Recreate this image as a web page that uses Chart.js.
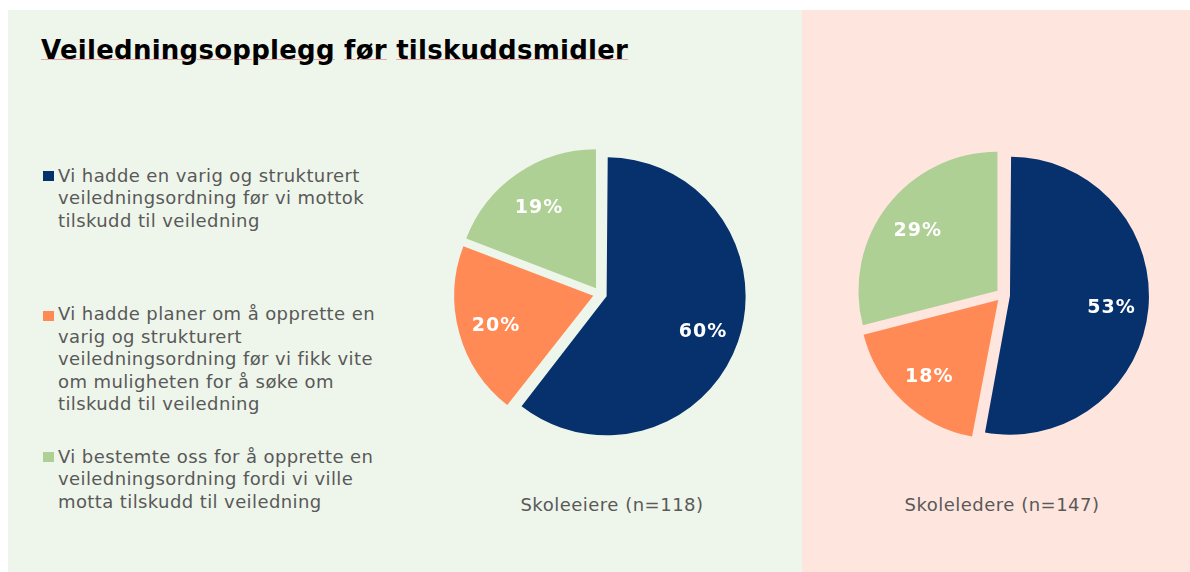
<!DOCTYPE html>
<html>
<head>
<meta charset="utf-8">
<script src="https://cdn.jsdelivr.net/npm/chart.js@4.4.1/dist/chart.umd.min.js"></script>
<style>
  body { margin: 0; background: #ffffff; font-family: "DejaVu Sans", Verdana, sans-serif; }
  #page { position: relative; width: 1190px; height: 572px; overflow: hidden; background: #ffffff; }
  .panel { position: absolute; top: 10px; height: 562px; }
  #leftPanel { left: 8px; width: 794px; background: #eef5ea; }
  #rightPanel { left: 802px; width: 388px; background: #fee5dd; }
  #title { position: absolute; left: 41px; top: 37px; font-size: 26px; line-height: 26px; font-weight: bold; color: #000; white-space: nowrap; letter-spacing: 0.25px; }
  #title span { text-decoration: underline; text-decoration-color: #e8a3a3; text-decoration-thickness: 1px; text-underline-offset: 0px; }
  .legendItem { position: absolute; left: 58px; width: 336px; font-size: 18px; line-height: 22.5px; color: #595959; letter-spacing: 0.4px; }
  .swatch { position: absolute; left: 43px; width: 11px; height: 10px; }
  .groupLabel { position: absolute; top: 494px; width: 300px; text-align: center; font-size: 18px; line-height: 22.5px; color: #595959; letter-spacing: 0.5px; }
  canvas { position: absolute; }
</style>
</head>
<body>
<div id="page">
  <div class="panel" id="leftPanel"></div>
  <div class="panel" id="rightPanel"></div>
  <div id="title"></div>
  <div id="legend"></div>
  <canvas id="ownerChart" width="320" height="320" style="left:440px; top:134px;"></canvas>
  <canvas id="leaderChart" width="320" height="320" style="left:843px; top:135px;"></canvas>
  <div class="groupLabel" id="ownerLabel" style="left:462px;"></div>
  <div class="groupLabel" id="leaderLabel" style="left:852px;"></div>
</div>
<script>
const titleText = 'Veiledningsopplegg før tilskuddsmidler';
const categories = [
  'Vi hadde en varig og strukturert veiledningsordning før vi mottok tilskudd til veiledning',
  'Vi hadde planer om å opprette en varig og strukturert veiledningsordning før vi fikk vite om muligheten for å søke om tilskudd til veiledning',
  'Vi bestemte oss for å opprette en veiledningsordning fordi vi ville motta tilskudd til veiledning'
];
const groups = ['Skoleeiere (n=118)', 'Skoleledere (n=147)'];
const ownerValues = [60, 20, 19];
const leaderValues = [53, 18, 29];

const sliceColors = ['#06316c', '#ff8a55', '#aed095'];
const legendTops = [164.8, 303.2, 445.8];
const swatchTops = [171, 311, 452];

// title, one underline per word
document.getElementById('title').innerHTML =
  titleText.split(' ').map(w => `<span>${w}</span>`).join(' ');

// legend
const legendEl = document.getElementById('legend');
categories.forEach((text, i) => {
  const sw = document.createElement('div');
  sw.className = 'swatch';
  sw.style.top = swatchTops[i] + 'px';
  sw.style.background = sliceColors[i];
  legendEl.appendChild(sw);
  const item = document.createElement('div');
  item.className = 'legendItem';
  item.style.top = legendTops[i] + 'px';
  item.textContent = text;
  legendEl.appendChild(item);
});

document.getElementById('ownerLabel').textContent = groups[0];
document.getElementById('leaderLabel').textContent = groups[1];

const RADIUS = 139;
const OFFSET = 28; // chart.js moves each slice by offset / 4

// keep slices larger than a half circle at the same radius as the others
const radiusFix = {
  id: 'radiusFix',
  afterUpdate(chart) {
    chart.getDatasetMeta(0).data.forEach(arc => {
      const c = arc.endAngle - arc.startAngle;
      const fix = 1 - Math.sin(Math.min(Math.PI, c));
      arc.outerRadius = RADIUS - (OFFSET / 4) * fix;
    });
  }
};

// percentage labels inside the slices
const sliceLabels = {
  id: 'sliceLabels',
  afterDatasetsDraw(chart) {
    const ctx = chart.ctx;
    const data = chart.data.datasets[0].data;
    ctx.save();
    ctx.fillStyle = '#ffffff';
    ctx.font = 'bold 19px "DejaVu Sans", Verdana, sans-serif';
    ctx.letterSpacing = '1px';
    ctx.textAlign = 'center';
    ctx.textBaseline = 'middle';
    chart.getDatasetMeta(0).data.forEach((arc, i) => {
      const mid = (arc.startAngle + arc.endAngle) / 2;
      const d = OFFSET / 4 + RADIUS * 0.73;
      ctx.fillText(data[i] + '%', arc.x + Math.cos(mid) * d + 0.5, arc.y + Math.sin(mid) * d + 3);
    });
    ctx.restore();
  }
};

function makePie(id, values) {
  return new Chart(document.getElementById(id).getContext('2d'), {
    type: 'pie',
    data: {
      labels: categories,
      datasets: [{
        data: values,
        backgroundColor: sliceColors,
        borderWidth: 0,
        offset: OFFSET,
        hoverOffset: 0
      }]
    },
    options: {
      responsive: false,
      animation: false,
      radius: RADIUS,
      layout: { padding: 0 },
      plugins: {
        legend: { display: false },
        tooltip: { enabled: false }
      }
    },
    plugins: [radiusFix, sliceLabels]
  });
}

const ownerChart = makePie('ownerChart', ownerValues);
const leaderChart = makePie('leaderChart', leaderValues);
</script>
</body>
</html>
